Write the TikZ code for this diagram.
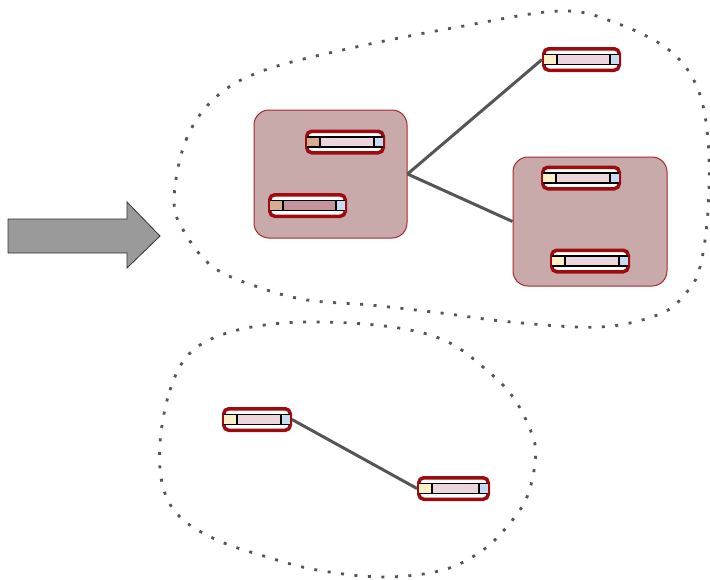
\documentclass[tikz,border=0pt]{standalone}
\usetikzlibrary{calc}
\definecolor{recred}{HTML}{9E0B0F}
\definecolor{rectan}{HTML}{D6AD8E}
\definecolor{recyellow}{HTML}{FCEFC6}
\definecolor{recblue}{HTML}{C6DCF5}
\definecolor{recpink}{HTML}{EDD5DE}
\definecolor{recmauve}{HTML}{C3939E}
\definecolor{grpfill}{HTML}{C8AAAB}
\definecolor{grpline}{HTML}{A8282C}
\definecolor{linkgray}{HTML}{555555}
\definecolor{dotgray}{HTML}{555555}
\definecolor{arrowfill}{HTML}{9A9A9A}
\tikzset{
  recbox/.style={draw=recred, line width=3.5pt, fill=white, rounded corners=5pt,
    minimum height=21.5pt, inner sep=0pt},
  grpbox/.style={draw=grpline, line width=1pt, fill=grpfill, rounded corners=15pt, inner sep=0pt},
  stripline/.style={black, line width=1.3pt},
  cellline/.style={black, line width=2pt},
  link/.style={draw=linkgray, line width=3pt},
  blob/.style={draw=dotgray, line width=2.8pt, dash pattern=on 3pt off 10.5pt},
  bigarrow/.style={draw=black!80, fill=arrowfill, line width=0.8pt}
}
\newcommand{\recnode}[5]{%
  \node[recbox, minimum width=#3] (#1) at #2 {};
  \fill[#4] ([xshift=1.7pt,yshift=-5pt]#1.west) rectangle ([xshift=15pt,yshift=5pt]#1.west);
  \fill[#5] ([xshift=15pt,yshift=-5pt]#1.west) rectangle ([xshift=-11pt,yshift=5pt]#1.east);
  \fill[recblue] ([xshift=-11pt,yshift=-5pt]#1.east) rectangle ([xshift=-1.7pt,yshift=5pt]#1.east);
  \draw[stripline] ([xshift=1.7pt,yshift=5pt]#1.west) -- ([xshift=-1.7pt,yshift=5pt]#1.east);
  \draw[stripline] ([xshift=1.7pt,yshift=-5pt]#1.west) -- ([xshift=-1.7pt,yshift=-5pt]#1.east);
  \draw[cellline] ([xshift=15pt,yshift=-5pt]#1.west) -- ([xshift=15pt,yshift=5pt]#1.west);
  \draw[cellline] ([xshift=-11pt,yshift=-5pt]#1.east) -- ([xshift=-11pt,yshift=5pt]#1.east);
}
\begin{document}
\begin{tikzpicture}[x=1pt,y=-1pt]
\useasboundingbox (0,0) rectangle (710,579);
% big arrow
\draw[bigarrow] (8,219) -- (127,219) -- (127,202) -- (160,236) -- (127,268) -- (127,253) -- (8,253) -- cycle;
% dotted blobs
\draw[blob] plot[smooth cycle, tension=0.6] coordinates {(174,200) (186,140) (216,97) (265,70) (356,47) (458,27) (560,11) (616,23) (669,50) (697,87) (708,140) (708,210) (700,267) (686,293) (660,314) (600,327) (511,322) (441,313) (370,305) (307,300) (258,287) (213,267) (185,233)};
\draw[blob] plot[smooth cycle, tension=0.6] coordinates {(160,443) (170,390) (190,353) (227,333) (283,323) (350,323) (410,330) (450,343) (483,367) (513,397) (533,437) (535,463) (527,497) (510,523) (483,550) (443,570) (383,577) (317,570) (267,557) (217,540) (180,517) (163,487)};
% groups
\node[grpbox, minimum width=153pt, minimum height=128pt] (g1) at (330.5,174) {};
\node[grpbox, minimum width=154pt, minimum height=129pt] (g2) at (590,221.5) {};
% records
\recnode{rA}{(345,142)}{76.5pt}{rectan}{recpink}
\recnode{rB}{(307.5,205.5)}{75.5pt}{rectan}{recmauve}
\recnode{rC}{(581.5,59.5)}{75.5pt}{recyellow}{recpink}
\recnode{rD}{(581,178)}{76.5pt}{recyellow}{recpink}
\recnode{rE}{(590,261)}{76.5pt}{recyellow}{recpink}
\recnode{rF}{(257,419.5)}{66.5pt}{recyellow}{recpink}
\recnode{rG}{(453.5,488.5)}{69.5pt}{recyellow}{recpink}
% connectors
\draw[link] (g1.east) -- (rC.west);
\draw[link] (g1.east) -- (g2.west);
\draw[link] (rF.east) -- (rG.west);
\end{tikzpicture}
\end{document}
